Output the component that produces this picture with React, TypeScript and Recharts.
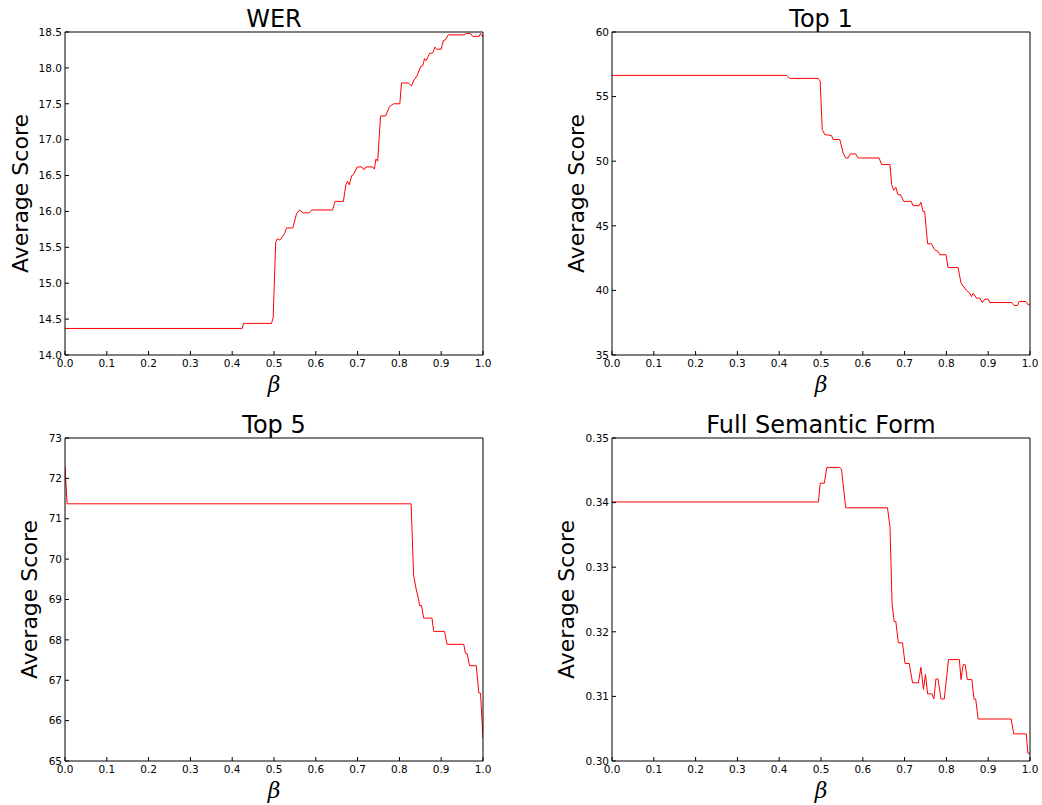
import React from 'react';
import { LineChart, Line, XAxis, YAxis } from 'recharts';

const betaTicks = [0, 0.1, 0.2, 0.3, 0.4, 0.5, 0.6, 0.7, 0.8, 0.9, 1.0];

const werBeta = [0, 0.424, 0.427, 0.494, 0.498, 0.504, 0.508, 0.514, 0.525, 0.53, 0.545, 0.554, 0.561, 0.57, 0.584, 0.59, 0.64, 0.646, 0.666, 0.672, 0.676, 0.68, 0.686, 0.69, 0.699, 0.71, 0.715, 0.72, 0.736, 0.74, 0.744, 0.748, 0.755, 0.767, 0.776, 0.786, 0.801, 0.805, 0.821, 0.829, 0.835, 0.843, 0.851, 0.856, 0.86, 0.864, 0.872, 0.88, 0.885, 0.889, 0.9, 0.905, 0.91, 0.917, 0.955, 0.961, 0.97, 0.975, 0.991, 0.994, 1.0];
const werScore = [14.37, 14.37, 14.44, 14.44, 14.52, 15.57, 15.62, 15.6, 15.69, 15.77, 15.77, 15.97, 16.02, 15.98, 15.98, 16.02, 16.02, 16.14, 16.14, 16.37, 16.42, 16.37, 16.5, 16.51, 16.62, 16.62, 16.58, 16.62, 16.62, 16.59, 16.73, 16.7, 17.33, 17.33, 17.46, 17.5, 17.5, 17.79, 17.79, 17.75, 17.83, 17.9, 18.02, 18.03, 18.13, 18.1, 18.2, 18.21, 18.29, 18.26, 18.26, 18.38, 18.39, 18.46, 18.46, 18.48, 18.48, 18.44, 18.44, 18.48, 18.43];
const werTicks = [14.0, 14.5, 15.0, 15.5, 16.0, 16.5, 17.0, 17.5, 18.0, 18.5];

const top1Beta = [0, 0.418, 0.425, 0.493, 0.498, 0.503, 0.509, 0.525, 0.529, 0.545, 0.553, 0.559, 0.565, 0.57, 0.583, 0.589, 0.639, 0.645, 0.665, 0.669, 0.674, 0.679, 0.684, 0.69, 0.698, 0.716, 0.72, 0.735, 0.739, 0.744, 0.748, 0.755, 0.764, 0.772, 0.78, 0.784, 0.799, 0.804, 0.828, 0.835, 0.848, 0.855, 0.86, 0.864, 0.872, 0.88, 0.886, 0.892, 0.9, 0.904, 0.956, 0.962, 0.97, 0.974, 0.99, 0.996, 1.0];
const top1Score = [56.64, 56.64, 56.41, 56.41, 56.2, 52.45, 52.06, 51.99, 51.68, 51.68, 50.64, 50.25, 50.25, 50.56, 50.56, 50.25, 50.25, 49.74, 49.74, 48.19, 47.75, 47.98, 47.41, 47.41, 46.89, 46.89, 46.56, 46.56, 46.82, 46.12, 46.12, 43.61, 43.61, 43.14, 43.01, 42.76, 42.76, 41.77, 41.77, 40.56, 39.99, 39.83, 39.52, 39.78, 39.4, 39.4, 39.06, 39.32, 39.32, 39.06, 39.06, 38.83, 38.83, 39.14, 39.14, 38.88, 38.95];
const top1Ticks = [35, 40, 45, 50, 55, 60];

const top5Beta = [0, 0.005, 0.828, 0.834, 0.84, 0.846, 0.848, 0.853, 0.858, 0.878, 0.882, 0.908, 0.914, 0.954, 0.958, 0.962, 0.968, 0.984, 0.99, 0.994, 1.0];
const top5Score = [72.3, 71.37, 71.37, 69.6, 69.26, 69.0, 68.85, 68.85, 68.54, 68.54, 68.21, 68.21, 67.89, 67.89, 67.67, 67.66, 67.36, 67.36, 66.69, 66.68, 65.56];
const top5Ticks = [65, 66, 67, 68, 69, 70, 71, 72, 73];

const fsfBeta = [0, 0.494, 0.498, 0.508, 0.514, 0.544, 0.549, 0.559, 0.659, 0.665, 0.67, 0.675, 0.679, 0.685, 0.695, 0.701, 0.711, 0.719, 0.733, 0.739, 0.745, 0.75, 0.755, 0.765, 0.77, 0.775, 0.78, 0.787, 0.795, 0.805, 0.831, 0.835, 0.84, 0.845, 0.85, 0.861, 0.866, 0.87, 0.876, 0.955, 0.961, 0.991, 0.995, 1.0];
const fsfScore = [0.3401, 0.3401, 0.343, 0.343, 0.34545, 0.34545, 0.3452, 0.3392, 0.3392, 0.3363, 0.3244, 0.3216, 0.3216, 0.3183, 0.3183, 0.3151, 0.3151, 0.3121, 0.3121, 0.3145, 0.3111, 0.3134, 0.3104, 0.3104, 0.3096, 0.3127, 0.3127, 0.3096, 0.3096, 0.3157, 0.3157, 0.3126, 0.3149, 0.3149, 0.3126, 0.3126, 0.3096, 0.3096, 0.3065, 0.3065, 0.3042, 0.3042, 0.3012, 0.3012];
const fsfTicks = [0.3, 0.31, 0.32, 0.33, 0.34, 0.35];

const titles = ['WER', 'Top 1', 'Top 5', 'Full Semantic Form'];
const yLabel = 'Average Score';
const xLabel = 'β';

const tickFont = { fontSize: 10.5, fontFamily: 'DejaVu Sans', fill: '#000' };

type PanelProps = {
  left: number;
  top: number;
  plot: { l: number; t: number; r: number; b: number };
  beta: number[];
  score: number[];
  yTicks: number[];
  yFmt: (v: number) => string;
};

const W = 521;
const H = 400;
const X_AXIS_H = 30;
const Y_AXIS_W = 40;

function Panel({ left, top, plot, beta, score, yTicks, yFmt }: PanelProps) {
  const data = beta.map((b, i) => ({ b, v: score[i] }));
  const yDomain: [number, number] = [yTicks[0], yTicks[yTicks.length - 1]];
  // plot area expressed in the panel's own coordinates
  const margin = {
    left: plot.l - left - Y_AXIS_W,
    top: plot.t - top - 1,
    right: left + W - plot.r - 1,
    bottom: top + H - plot.b - X_AXIS_H,
  };
  return (
    <div style={{ position: 'absolute', left, top, width: W, height: H }}>
      <LineChart width={W} height={H} data={data} margin={margin}>
        <XAxis
          dataKey="b"
          type="number"
          domain={[0, 1]}
          ticks={betaTicks}
          allowDataOverflow
          height={X_AXIS_H}
          tickSize={-4}
          tickMargin={9}
          tickFormatter={(v: number) => v.toFixed(1)}
          tick={tickFont}
          stroke="#000"
          interval={0}
        />
        <XAxis
          xAxisId="top"
          orientation="top"
          type="number"
          domain={[0, 1]}
          ticks={betaTicks}
          allowDataOverflow
          height={1}
          tickSize={-4}
          tick={false}
          stroke="#000"
          interval={0}
        />
        <YAxis
          type="number"
          domain={yDomain}
          ticks={yTicks}
          allowDataOverflow
          width={Y_AXIS_W}
          tickSize={-4}
          tickMargin={7}
          tickFormatter={yFmt}
          tick={tickFont}
          stroke="#000"
          interval={0}
        />
        <YAxis
          yAxisId="right"
          orientation="right"
          type="number"
          domain={yDomain}
          ticks={yTicks}
          allowDataOverflow
          width={1}
          tickSize={-4}
          tick={false}
          stroke="#000"
          interval={0}
        />
        <Line
          dataKey="v"
          type="linear"
          stroke="#ff0000"
          strokeWidth={1}
          dot={false}
          isAnimationActive={false}
        />
      </LineChart>
    </div>
  );
}

export default function App() {
  const textFont = 'DejaVu Sans';
  return (
    <div style={{ position: 'absolute', left: 0, top: 0, width: 1042, height: 805, background: '#fff', overflow: 'hidden' }}>
      <Panel left={0} top={0} plot={{ l: 65, t: 32, r: 483, b: 355 }} beta={werBeta} score={werScore} yTicks={werTicks} yFmt={(v) => v.toFixed(1)} />
      <Panel left={521} top={0} plot={{ l: 612, t: 32, r: 1030, b: 355 }} beta={top1Beta} score={top1Score} yTicks={top1Ticks} yFmt={(v) => String(v)} />
      <Panel left={0} top={405} plot={{ l: 65, t: 438, r: 483, b: 761 }} beta={top5Beta} score={top5Score} yTicks={top5Ticks} yFmt={(v) => String(v)} />
      <Panel left={521} top={405} plot={{ l: 612, t: 438, r: 1030, b: 761 }} beta={fsfBeta} score={fsfScore} yTicks={fsfTicks} yFmt={(v) => v.toFixed(2)} />
      <svg width={1042} height={805} style={{ position: 'absolute', left: 0, top: 0, pointerEvents: 'none' }}>
        <text x={274} y={27} textAnchor="middle" fontFamily={textFont} fontSize={24} fill="#000">{titles[0]}</text>
        <text x={821} y={27} textAnchor="middle" fontFamily={textFont} fontSize={24} fill="#000">{titles[1]}</text>
        <text x={274} y={433} textAnchor="middle" fontFamily={textFont} fontSize={24} fill="#000">{titles[2]}</text>
        <text x={821} y={433} textAnchor="middle" fontFamily={textFont} fontSize={24} fill="#000">{titles[3]}</text>

        <text transform="translate(28,193.5) rotate(-90)" textAnchor="middle" fontFamily={textFont} fontSize={22} fill="#000">{yLabel}</text>
        <text transform="translate(584,193.5) rotate(-90)" textAnchor="middle" fontFamily={textFont} fontSize={22} fill="#000">{yLabel}</text>
        <text transform="translate(37,599.5) rotate(-90)" textAnchor="middle" fontFamily={textFont} fontSize={22} fill="#000">{yLabel}</text>
        <text transform="translate(574,599.5) rotate(-90)" textAnchor="middle" fontFamily={textFont} fontSize={22} fill="#000">{yLabel}</text>

        <text x={274} y={391.5} textAnchor="middle" fontFamily="DejaVu Serif" fontStyle="italic" fontSize={22} fill="#000">{xLabel}</text>
        <text x={821} y={391.5} textAnchor="middle" fontFamily="DejaVu Serif" fontStyle="italic" fontSize={22} fill="#000">{xLabel}</text>
        <text x={274} y={797.5} textAnchor="middle" fontFamily="DejaVu Serif" fontStyle="italic" fontSize={22} fill="#000">{xLabel}</text>
        <text x={821} y={797.5} textAnchor="middle" fontFamily="DejaVu Serif" fontStyle="italic" fontSize={22} fill="#000">{xLabel}</text>
      </svg>
    </div>
  );
}
